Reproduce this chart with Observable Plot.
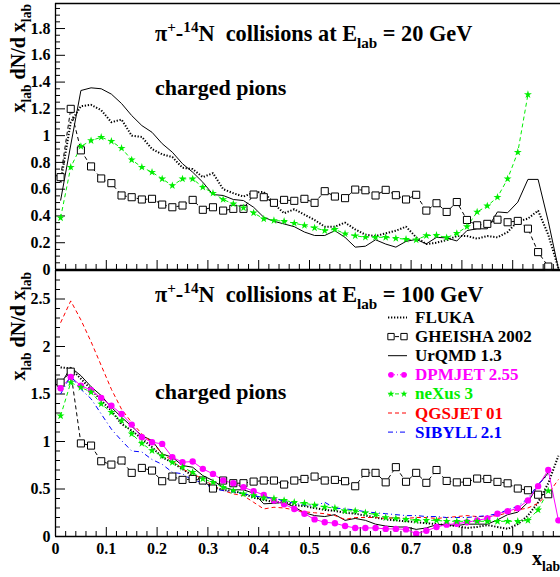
<!DOCTYPE html>
<html><head><meta charset="utf-8">
<script src="https://cdn.jsdelivr.net/npm/d3@7"></script>
<script src="https://cdn.jsdelivr.net/npm/@observablehq/plot@0.6"></script>
<style>
html,body{margin:0;padding:0;background:#fff;overflow:hidden;}
#chart{position:relative;width:560px;height:577px;background:#fff;}
#chart svg{display:block;position:absolute;left:0;}
</style></head><body><div id="chart"></div>
<script>
// ---------- data ----------
const xBins = [0.01,0.03,0.05,0.07,0.09,0.11,0.13,0.15,0.17,0.19,0.21,0.23,0.25,0.27,0.29,0.31,0.33,0.35,0.37,0.39,0.41,0.43,0.45,0.47,0.49,0.51,0.53,0.55,0.57,0.59,0.61,0.63,0.65,0.67,0.69,0.71,0.73,0.75,0.77,0.79,0.81,0.83,0.85,0.87,0.89,0.91,0.93,0.95,0.97,0.99];
const xTickLabels = [0,0.1,0.2,0.3,0.4,0.5,0.6,0.7,0.8,0.9];
const yTicksTop = [0,0.2,0.4,0.6,0.8,1,1.2,1.4,1.6,1.8];
const yTicksBottom = [0,0.5,1,1.5,2,2.5];

// 20 GeV panel
const fluka20 = [0.65,1.10,1.22,1.23,1.19,1.10,1.12,1.00,0.99,0.90,0.86,0.84,0.76,0.75,0.69,0.72,0.60,0.57,0.545,0.575,0.58,0.49,0.42,0.45,0.41,0.37,0.32,0.32,0.35,0.30,0.26,0.25,0.27,0.29,0.32,0.24,0.19,0.20,0.22,0.25,0.25,0.23,0.25,0.24,0.28,0.36,0.38,0.44,0.26,0.01];
const gheisha20 = [0.69,1.20,0.89,0.77,0.68,0.645,0.553,0.54,0.523,0.528,0.485,0.465,0.478,0.52,0.446,0.465,0.44,0.453,0.453,0.56,0.54,0.498,0.52,0.513,0.528,0.498,0.585,0.545,0.533,0.597,0.592,0.553,0.595,0.555,0.523,0.558,0.44,0.495,0.43,0.504,0.37,0.33,0.341,0.372,0.353,0.363,0.305,0.13,0.022,null];
const urqmd20 = [0.515,0.93,1.337,1.357,1.35,1.31,1.24,1.15,1.075,1.025,0.94,0.876,0.79,0.727,0.652,0.56,0.553,0.523,0.515,0.465,0.39,0.36,0.34,0.32,0.28,0.254,0.254,0.29,0.24,0.167,0.174,0.222,0.19,0.167,0.21,0.225,0.192,0.24,0.236,0.213,0.291,0.304,0.304,0.43,0.424,0.503,0.673,0.673,0.36,0.005];
const nexus20 = [0.386,0.764,0.92,0.963,0.988,0.958,0.906,0.819,0.764,0.727,0.677,0.627,0.677,0.677,0.615,0.57,0.523,0.49,0.461,0.423,0.378,0.366,0.361,0.346,0.329,0.311,0.291,0.30,0.267,0.252,0.241,0.241,0.24,0.233,0.226,0.222,0.253,0.256,0.238,0.27,0.32,0.43,0.475,0.54,0.677,0.876,1.307,null,null,null];

// 100 GeV panel
const fluka100 = [1.78,1.77,1.66,1.55,1.43,1.325,1.185,1.115,1.03,0.94,0.834,0.78,0.71,0.64,0.59,0.52,0.49,0.48,0.45,0.41,0.386,0.36,0.36,0.33,0.32,0.30,0.28,0.27,0.25,0.24,0.22,0.20,0.18,0.17,0.16,0.15,0.14,0.13,0.12,0.11,0.09,0.10,0.12,0.10,0.08,0.13,0.22,0.36,0.56,0.85];
const gheisha100 = [1.62,1.735,0.98,0.957,0.792,0.757,0.80,0.67,0.722,0.694,0.582,0.631,0.596,0.606,0.589,0.505,0.589,0.561,0.561,0.578,0.589,0.589,0.547,0.589,0.606,0.631,0.589,0.596,0.582,0.529,0.67,0.67,0.57,0.73,0.576,0.67,0.565,0.70,0.585,0.57,0.575,0.61,0.606,0.575,0.56,0.505,0.487,0.44,0.445,null];
const urqmd100 = [1.60,1.78,1.693,1.577,1.483,1.36,1.255,1.16,1.062,1.01,0.869,0.834,0.747,0.729,0.641,0.589,0.519,0.491,0.491,0.456,0.344,0.35,0.36,0.31,0.25,0.22,0.21,0.23,0.17,0.19,0.17,0.13,0.11,0.10,0.10,0.075,0.09,0.125,0.125,0.115,0.13,0.13,0.13,0.175,0.23,0.256,0.36,0.54,0.67,null];
const dpmjet100 = [1.56,1.68,1.588,1.54,1.458,1.377,1.29,1.178,1.044,0.992,0.975,0.834,0.782,0.789,0.712,0.659,0.589,0.561,0.519,0.477,0.438,0.379,0.34,0.29,0.24,0.18,0.15,0.14,0.11,0.09,0.09,0.09,0.08,0.08,0.075,0.03,0.06,0.10,0.125,0.135,0.15,0.17,0.19,0.24,0.266,0.298,0.38,0.53,0.70,0.17];
const nexus100 = [1.27,1.62,1.57,1.52,1.395,1.307,1.22,1.08,0.98,0.904,0.85,0.78,0.729,0.676,0.606,0.571,0.519,0.484,0.449,0.431,0.407,0.40,0.38,0.36,0.35,0.33,0.31,0.30,0.27,0.27,0.25,0.23,0.20,0.19,0.18,0.17,0.17,0.17,0.16,0.16,0.16,0.16,0.16,0.16,0.16,0.16,0.17,0.28,0.48,null];
const qgsjet100 = [2.25,2.48,2.28,2.05,1.80,1.55,1.34,1.20,1.08,0.99,0.87,0.80,0.71,0.66,0.606,0.536,0.484,0.449,0.43,0.36,0.29,0.308,0.30,0.28,0.26,0.25,0.24,0.22,0.18,0.20,0.20,0.20,0.19,0.20,0.19,0.20,0.20,0.19,0.20,0.21,0.22,0.21,0.21,0.22,0.25,0.28,0.30,0.35,0.45,0.60];
const sibyll100 = [1.50,1.69,1.55,1.45,1.29,1.13,1.01,0.90,0.89,0.81,0.76,0.676,0.66,0.59,0.57,0.50,0.484,0.467,0.449,0.43,0.41,0.407,0.37,0.35,0.33,0.32,0.36,0.30,0.29,0.28,0.26,0.25,0.24,0.23,0.22,0.22,0.21,0.21,0.20,0.20,0.20,0.21,0.22,0.24,0.28,0.32,0.40,0.55,0.65,null];

const legendNames = ["FLUKA","GHEISHA 2002","UrQMD 1.3","DPMJET 2.55","neXus 3","QGSJET 01","SIBYLL 2.1"];

// ---------- styles ----------
const FONT = "'Liberation Serif','Times New Roman',Times,serif";
const W = 560, ML = 55, PX_PER_UNIT_X = 508;
const STYLE = {
  "FLUKA":        {stroke:"black",   strokeWidth:2, dash:"1.3,1.7"},
  "GHEISHA 2002": {stroke:"black",   strokeWidth:1, dash:"4,3", marker:{symbol:"square", r:4.0, fill:"white", stroke:"black"}},
  "UrQMD 1.3":    {stroke:"black",   strokeWidth:1},
  "DPMJET 2.55":  {stroke:"#ff00ff", strokeWidth:1, marker:{symbol:"circle", r:3.2, fill:"#ff00ff", stroke:"none"}},
  "neXus 3":      {stroke:"#00ee00", strokeWidth:1, dash:"4,3", marker:{symbol:"star", r:2.5, fill:"#00ee00", stroke:"none"}},
  "QGSJET 01":    {stroke:"#ff0000", strokeWidth:1, dash:"4,3"},
  "SIBYLL 2.1":   {stroke:"#0000ff", strokeWidth:1, dash:"5,3,1,3"}
};
const fmt = d => String(Math.round(d * 100) / 100);

function rows(vals) { return xBins.map((x, i) => ({x, y: vals[i]})).filter(d => d.y != null); }

function panel({height, mt, mb, yMax, yMajor, yMinorStep, series, xLabels, bg}) {
  const innerH = height - mt - mb, innerW = W - ML;
  const xMinor = d3.range(0.02, 0.995, 0.02).filter(v => Math.abs(v * 10 - Math.round(v * 10)) > 1e-6);
  const yMinor = d3.range(yMinorStep, yMax, yMinorStep).filter(v => !yMajor.some(m => Math.abs(m - v) < 1e-6));
  const marks = [
    Plot.tickX(xMinor, {x: d => d, insetTop: innerH - 5, stroke: "black", strokeWidth: 1}),
    Plot.tickX(xTickLabels, {x: d => d, insetTop: innerH - 9, stroke: "black", strokeWidth: 1}),
    Plot.tickY(yMinor, {y: d => d, insetRight: innerW - 5, stroke: "black", strokeWidth: 1}),
    Plot.tickY(yMajor, {y: d => d, insetRight: innerW - 10, stroke: "black", strokeWidth: 1})
  ];
  for (const [name, vals] of series) {
    const s = STYLE[name];
    marks.push(Plot.line(rows(vals), {x: "x", y: "y", stroke: s.stroke, strokeWidth: s.strokeWidth, strokeDasharray: s.dash, strokeLinecap: "butt", strokeLinejoin: "miter", clip: true}));
  }
  for (const [name, vals] of series) {
    const m = STYLE[name].marker;
    if (m) marks.push(Plot.dot(rows(vals), {x: "x", y: "y", symbol: m.symbol, r: m.r, fill: m.fill, stroke: m.stroke, strokeWidth: 1}));
  }
  marks.push(Plot.ruleY([0], {stroke: "black", strokeWidth: 1.3}));
  marks.push(Plot.ruleY([yMax], {stroke: "black", strokeWidth: 1.3}));
  marks.push(Plot.ruleX([0], {stroke: "black", strokeWidth: 1.3}));
  return Plot.plot({
    width: W, height, marginLeft: ML, marginRight: 0, marginTop: mt, marginBottom: mb,
    x: {domain: [0, innerW / PX_PER_UNIT_X], axis: xLabels ? "bottom" : null, ticks: xTickLabels, tickSize: 0, tickPadding: 6, tickFormat: fmt, label: null},
    y: {domain: [0, yMax], ticks: yMajor, tickSize: 0, tickPadding: 5, tickFormat: fmt, label: null},
    style: {fontFamily: FONT, fontSize: "16px", fontWeight: "bold", background: bg, color: "black"},
    marks
  });
}

function rich(svg, parts, {x, y, size, fill = "black", anchor = "start", rotate = 0}) {
  const t = svg.append("text")
    .attr("transform", `translate(${x},${y}) rotate(${rotate})`)
    .attr("font-family", FONT).attr("font-size", size).attr("font-weight", "bold")
    .attr("fill", fill).attr("text-anchor", anchor).style("white-space", "pre");
  let cur = 0;
  for (const [s, mode] of parts) {
    const off = mode === "sup" ? -0.42 * size : mode === "sub" ? 0.3 * size : 0;
    t.append("tspan").attr("dy", off - cur).attr("font-size", mode ? size * 0.68 : size).text(s);
    cur = off;
  }
  return t;
}

const chart = d3.select("#chart");
const ytitle = [["x", null], ["lab", "sub"], [" dN/d x", null], ["lab", "sub"]];
const TITLE_SIZE = 22.3;

// ---------- bottom panel (100 GeV), placed at page y = 270 ----------
const OFF = 270;
const botPlot = panel({
  height: 307, mt: 0, mb: 41, yMax: 2.8, yMajor: yTicksBottom, yMinorStep: 0.1, xLabels: true, bg: "white",
  series: [["FLUKA", fluka100], ["GHEISHA 2002", gheisha100], ["UrQMD 1.3", urqmd100], ["DPMJET 2.55", dpmjet100],
           ["neXus 3", nexus100], ["QGSJET 01", qgsjet100], ["SIBYLL 2.1", sibyll100]]
});
botPlot.style.top = OFF + "px";
chart.node().appendChild(botPlot);
const sBot = d3.select(botPlot);
rich(sBot, ytitle, {x: 25, y: 272 - OFF, size: 20, anchor: "end", rotate: -90});
rich(sBot, [["π", null], ["+", "sup"], ["-", null], ["14", "sup"], ["N  collisions at E", null], ["lab", "sub"], [" = 100 GeV", null]], {x: 155, y: 302 - OFF, size: TITLE_SIZE});
rich(sBot, [["charged pions", null]], {x: 155, y: 399 - OFF, size: 22});
rich(sBot, [["x", null], ["lab", "sub"]], {x: 532, y: 565 - OFF, size: 20});

// legend
const lg = sBot.append("g");
legendNames.forEach((name, i) => {
  const s = STYLE[name];
  const base = 323 - OFF + i * 19.1;
  const cy = base - 5.5;
  lg.append("line").attr("x1", 388).attr("x2", 407).attr("y1", cy).attr("y2", cy)
    .attr("stroke", s.stroke).attr("stroke-width", s.strokeWidth)
    .attr("stroke-dasharray", name === "DPMJET 2.55" ? "1,2" : (s.dash || null));
  if (s.marker) {
    const sym = {square: d3.symbolSquare, circle: d3.symbolCircle, star: d3.symbolStar}[s.marker.symbol];
    for (const mx of [391, 404]) {
      lg.append("path").attr("d", d3.symbol(sym, s.marker.r * s.marker.r * Math.PI * 0.8)())
        .attr("transform", `translate(${mx},${cy})`)
        .attr("fill", s.marker.fill).attr("stroke", s.marker.stroke === "none" ? null : s.marker.stroke);
    }
  }
  lg.append("text").attr("x", 415).attr("y", base).attr("text-anchor", "start")
    .attr("font-family", FONT).attr("font-size", 17).attr("font-weight", "bold")
    .attr("fill", s.stroke).text(name);
});

// ---------- top panel (20 GeV), transparent so its "0" label can overhang ----------
const topPlot = panel({
  height: 282, mt: 3, mb: 13, yMax: 1.987, yMajor: yTicksTop, yMinorStep: 0.05, xLabels: false, bg: "transparent",
  series: [["FLUKA", fluka20], ["GHEISHA 2002", gheisha20], ["UrQMD 1.3", urqmd20], ["neXus 3", nexus20]]
});
topPlot.style.top = "0px";
chart.node().appendChild(topPlot);
const sTop = d3.select(topPlot);
rich(sTop, ytitle, {x: 25, y: 4, size: 20, anchor: "end", rotate: -90});
rich(sTop, [["π", null], ["+", "sup"], ["-", null], ["14", "sup"], ["N  collisions at E", null], ["lab", "sub"], [" = 20 GeV", null]], {x: 155, y: 41, size: TITLE_SIZE});
rich(sTop, [["charged pions", null]], {x: 155, y: 95, size: 22});
</script></body></html>
